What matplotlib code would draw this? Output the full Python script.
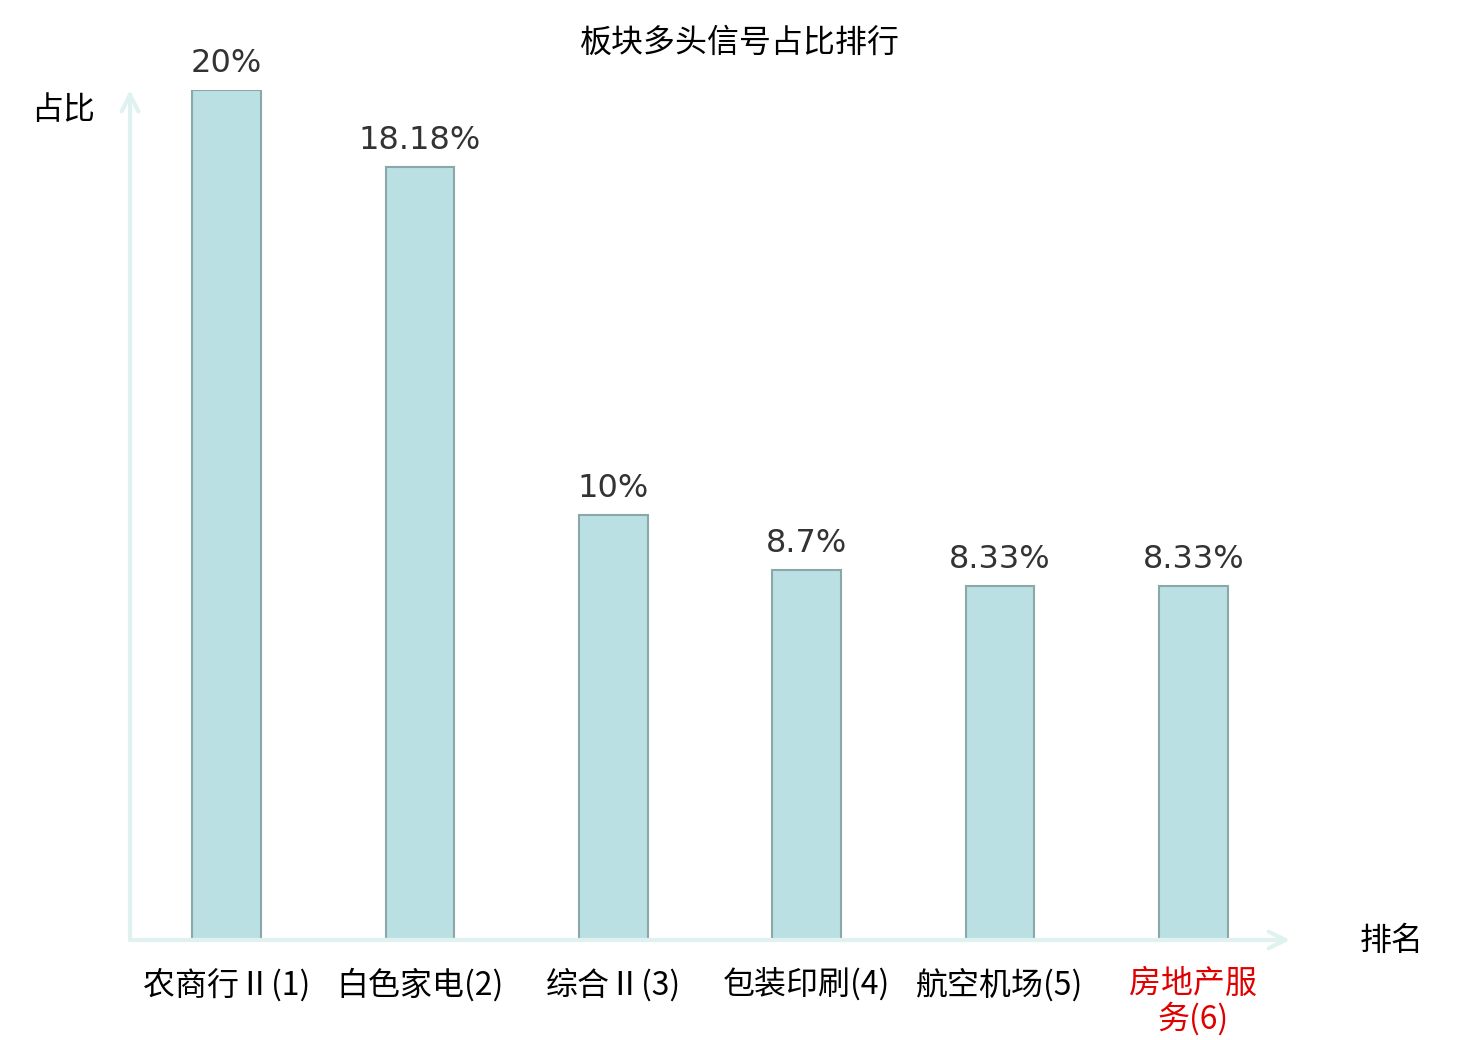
import matplotlib
matplotlib.use('Agg')
import matplotlib.pyplot as plt

plt.rcParams['font.family'] = ['Noto Sans CJK SC', 'DejaVu Sans']

# Data
sectors = ['农商行Ⅱ(1)', '白色家电(2)', '综合Ⅱ(3)', '包装印刷(4)', '航空机场(5)', '房地产服\n务(6)']
shares = [20, 18.18, 10, 8.7, 8.33, 8.33]
share_labels = ['20%', '18.18%', '10%', '8.7%', '8.33%', '8.33%']
label_colors = ['#000000', '#000000', '#000000', '#000000', '#000000', '#e00000']

axis_color = '#dff2f0'

fig = plt.figure(figsize=(14.8, 10.4), dpi=100)
ax = fig.add_axes([130 / 1480, 100 / 1040, 1160 / 1480, 850 / 1040])

x = list(range(len(sectors)))
ax.bar(x, shares, width=0.355, color='#bbe0e3', edgecolor='#8aa7aa', linewidth=1.5, zorder=3)

for xi, v, lab in zip(x, shares, share_labels):
    ax.annotate(lab, (xi, v), xytext=(0, 8), textcoords='offset points',
                ha='center', va='bottom', fontsize=23, color='#333333',
                family='DejaVu Sans')

ax.set_xlim(-0.5, len(sectors) - 0.5)
ax.set_ylim(0, 20)

for s in ax.spines.values():
    s.set_visible(False)
ax.set_yticks([])
ax.set_xticks(x)
ax.set_xticklabels(sectors, fontsize=23, linespacing=1.1)
ax.tick_params(axis='x', length=0, pad=20)
for t, c in zip(ax.get_xticklabels(), label_colors):
    t.set_color(c)
    t.set_verticalalignment('top')

# axes with arrows
ax.annotate('', xy=(1.0, 0), xytext=(0, 0), xycoords='axes fraction',
            arrowprops=dict(arrowstyle='->', color=axis_color, lw=3,
                            mutation_scale=30, shrinkA=0, shrinkB=0))
ax.annotate('', xy=(0, 1.0), xytext=(0, 0), xycoords='axes fraction',
            arrowprops=dict(arrowstyle='->', color=axis_color, lw=3,
                            mutation_scale=30, shrinkA=0, shrinkB=0))

fig.text(63 / 1480, 1 - 110 / 1040, '占比', fontsize=23, ha='center', va='center')
fig.text(1392 / 1480, 1 - 941 / 1040, '排名', fontsize=23, ha='center', va='center')
fig.text(740 / 1480, 1 - 43 / 1040, '板块多头信号占比排行', fontsize=23, ha='center', va='center')

fig.savefig('out.png', dpi=100)
